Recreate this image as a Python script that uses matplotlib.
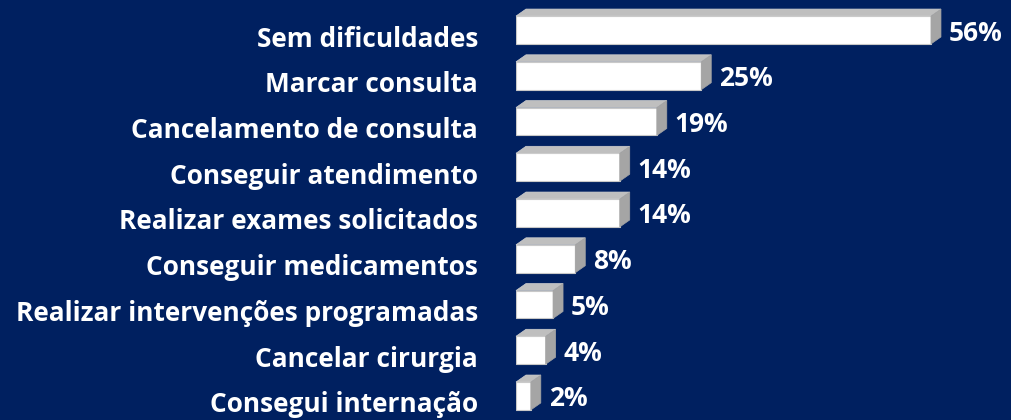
import matplotlib
matplotlib.use('Agg')
import matplotlib.pyplot as plt
from matplotlib.patches import Polygon
from matplotlib.transforms import offset_copy

categorias = ['Sem dificuldades', 'Marcar consulta', 'Cancelamento de consulta',
              'Conseguir atendimento', 'Realizar exames solicitados',
              'Conseguir medicamentos', 'Realizar intervenções programadas',
              'Cancelar cirurgia', 'Consegui internação']
valores = [56, 25, 19, 14, 14, 8, 5, 4, 2]

fundo = '#002060'
plt.rcParams['font.family'] = ['Open Sans', 'DejaVu Sans']

fig = plt.figure(figsize=(10.11, 4.2), dpi=100, facecolor=fundo)
ax = fig.add_axes([516 / 1011, 0, 1 - 516 / 1011, 1])
ax.set_facecolor(fundo)
ax.set_xlim(0, 66.8)
ax.set_ylim(8.525, -0.656)
ax.axis('off')

altura = 0.61
dx, dy = 10, 7  # profundidade 3D em pixels

bars = ax.barh(range(len(valores)), valores, height=altura, color='white',
               edgecolor='#C8C8C8', linewidth=0.8, zorder=3)

fig.canvas.draw()
for b in bars:
    x0, y0 = b.get_x(), b.get_y()
    x1, y1 = x0 + b.get_width(), y0 + b.get_height()
    (px0, ptop), = ax.transData.transform([(x0, y0)])
    (px1, pbot), = ax.transData.transform([(x1, y1)])
    # topo
    topo = Polygon([(px0, ptop), (px1, ptop), (px1 + dx, ptop + dy), (px0 + dx, ptop + dy)],
                   closed=True, transform=None, facecolor='#BFBFBF',
                   edgecolor='#D0D0D0', linewidth=0.5, zorder=2)
    lado = Polygon([(px1, ptop), (px1 + dx, ptop + dy), (px1 + dx, pbot + dy), (px1, pbot)],
                   closed=True, transform=None, facecolor='#A5A5A5',
                   edgecolor='#A5A5A5', linewidth=0.5, zorder=2)
    fig.add_artist(topo)
    fig.add_artist(lado)

t_cat = offset_copy(ax.transData, fig=fig, x=-38, y=-9, units='dots')
for i, c in enumerate(categorias):
    ax.text(0, i, c, transform=t_cat, ha='right', va='center', color='white',
            fontsize=18.9, fontweight='bold', clip_on=False)

t_val = offset_copy(ax.transData, fig=fig, x=18, y=-3, units='dots')
for i, v in enumerate(valores):
    ax.text(v, i, f'{v}%', transform=t_val, ha='left', va='center', color='white',
            fontsize=19, fontweight='bold', clip_on=False)

fig.savefig('out.png', dpi=100, facecolor=fundo)
